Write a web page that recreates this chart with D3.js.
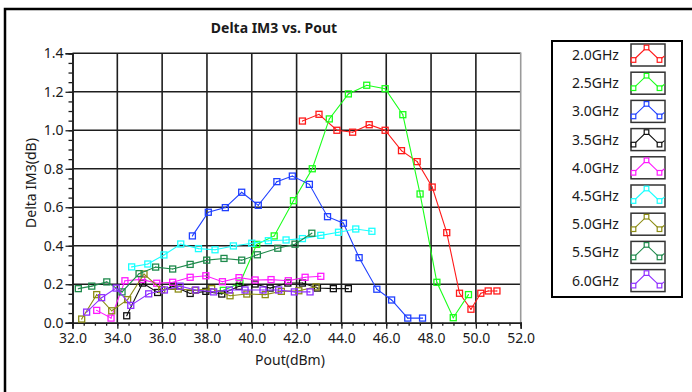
<!DOCTYPE html>
<html>
<head>
<meta charset="utf-8">
<script src="https://cdn.jsdelivr.net/npm/d3@7"></script>
<style>
  html, body { margin: 0; padding: 0; background: #fff; }
  svg { display: block; }
  text { font-family: "Noto Sans", "Open Sans", sans-serif; fill: #1a1a1a; }
</style>
</head>
<body>
<svg id="chart" width="692" height="392"></svg>
<script>
// Delta IM3 vs. Pout, one trace per test frequency: [Pout dBm, Delta IM3 dB]
const s20 = [[42.26,1.048],[43.0,1.083],[43.8,1.0],[44.5,0.99],[45.24,1.029],[45.95,1.0],[46.68,0.894],[47.38,0.837],[48.05,0.705],[48.7,0.468],[49.27,0.153],[49.78,0.07],[50.22,0.153],[50.55,0.165],[50.94,0.165]];
const s25 = [[38.73,0.168],[39.47,0.206],[40.22,0.407],[41.0,0.451],[41.86,0.634],[42.7,0.80],[43.46,1.059],[44.31,1.189],[45.13,1.234],[45.95,1.216],[46.74,1.081],[47.51,0.669],[48.26,0.21],[48.99,0.026],[49.67,0.146]];
const s30 = [[37.35,0.451],[38.06,0.574],[38.82,0.598],[39.55,0.678],[40.29,0.61],[41.12,0.733],[41.81,0.762],[42.57,0.719],[43.38,0.551],[44.09,0.517],[44.79,0.338],[45.58,0.174],[46.24,0.118],[46.96,0.024],[47.62,0.024]];
const s35 = [[34.42,0.036],[35.13,0.206],[35.8,0.157],[36.5,0.19],[37.25,0.152],[37.95,0.163],[38.66,0.149],[39.43,0.189],[40.15,0.201],[40.82,0.18],[41.61,0.206],[42.26,0.206],[42.93,0.18],[43.64,0.177],[44.31,0.177]];
const s40 = [[33.08,0.064],[33.72,0.024],[34.34,0.218],[35.09,0.225],[35.76,0.205],[36.47,0.21],[37.25,0.236],[37.95,0.244],[38.69,0.213],[39.43,0.234],[40.15,0.222],[40.86,0.224],[41.63,0.218],[42.38,0.236],[43.08,0.241]];
const s45 = [[34.64,0.29],[35.36,0.305],[36.08,0.352],[36.83,0.409],[37.62,0.385],[38.36,0.379],[39.18,0.399],[40.0,0.413],[40.74,0.426],[41.53,0.43],[42.26,0.437],[43.08,0.454],[43.87,0.47],[44.64,0.487],[45.36,0.475]];
const s50 = [[32.41,0.019],[33.08,0.146],[33.75,0.062],[34.46,0.12],[35.19,0.253],[35.98,0.172],[36.72,0.175],[37.47,0.168],[38.21,0.177],[39.03,0.14],[39.78,0.149],[40.6,0.146],[41.32,0.163],[42.1,0.166],[42.87,0.186]];
const s55 = [[32.26,0.177],[32.86,0.19],[33.53,0.212],[34.21,0.16],[34.97,0.255],[35.71,0.289],[36.47,0.279],[37.25,0.303],[37.99,0.325],[38.76,0.334],[39.55,0.325],[40.25,0.353],[41.16,0.387],[41.93,0.408],[42.68,0.465]];
const s60 = [[32.63,0.055],[33.3,0.13],[33.95,0.18],[34.6,0.09],[35.4,0.15],[36.1,0.17],[36.8,0.19],[37.5,0.17],[38.3,0.16],[39.0,0.17],[39.7,0.17],[40.5,0.17],[41.2,0.17],[41.9,0.16],[42.6,0.16]];

const seriesNames  = ["2.0GHz","2.5GHz","3.0GHz","3.5GHz","4.0GHz","4.5GHz","5.0GHz","5.5GHz","6.0GHz"];
const seriesColors = ["#ff1a1a","#1aff1a","#2040ff","#111111","#ff1aff","#1affff","#8c8c14","#1f8a4c","#9030ff"];
const seriesData   = [s20, s25, s30, s35, s40, s45, s50, s55, s60];

const xTicks = [32,34,36,38,40,42,44,46,48,50,52];
const yTicks = [0,0.2,0.4,0.6,0.8,1.0,1.2,1.4];

const svg = d3.select("#chart");

// outer panel frame
svg.append("rect").attr("x",5).attr("y",9).attr("width",720).attr("height",420)
  .attr("fill","#fff").attr("stroke","#000").attr("stroke-width",2.5);

const x = d3.scaleLinear().domain([32,52]).range([72.5,520.7]);
const y = d3.scaleLinear().domain([0,1.4]).range([322.7,53.3]);

// plot background
svg.append("rect").attr("x",x(32)).attr("y",y(1.4))
  .attr("width",x(52)-x(32)).attr("height",y(0)-y(1.4)).attr("fill","#fff");

// grid
const grid = svg.append("g");
grid.selectAll("line.v").data(xTicks.slice(1,-1)).join("line")
  .attr("x1",d=>x(d)).attr("x2",d=>x(d)).attr("y1",y(1.4)).attr("y2",y(0))
  .attr("stroke","#1e1e1e").attr("stroke-width",1.6);
grid.selectAll("line.h").data(yTicks.slice(1)).join("line")
  .attr("x1",x(32)).attr("x2",x(52)).attr("y1",d=>y(d)).attr("y2",d=>y(d))
  .attr("stroke","#1e1e1e").attr("stroke-width",1.6);
// right border of plot
svg.append("line").attr("x1",x(52)).attr("x2",x(52)).attr("y1",y(1.4)-0.8).attr("y2",y(0))
  .attr("stroke","#9a9a9a").attr("stroke-width",1.6);

// axes
const xAxis = d3.axisBottom(x).tickValues(xTicks).tickFormat(d3.format(".1f")).tickSize(6).tickPadding(4);
const xMinor = d3.axisBottom(x).tickValues(d3.range(32,52.01,0.5)).tickFormat("").tickSize(3);
const yAxis = d3.axisLeft(y).tickValues(yTicks).tickFormat(d3.format(".1f")).tickSize(7).tickPadding(2);
const yMinor = d3.axisLeft(y).tickValues(d3.range(0,1.401,0.05)).tickFormat("").tickSize(4);

function styleAxis(g){
  g.select(".domain").attr("stroke","#1e1e1e").attr("stroke-width",1.6);
  g.selectAll(".tick line").attr("stroke","#1e1e1e").attr("stroke-width",1.3);
  g.selectAll(".tick text").style("font-size","14px").attr("fill","#1a1a1a");
}
svg.append("g").attr("transform",`translate(0,${y(0)})`).call(xMinor).call(styleAxis);
svg.append("g").attr("transform",`translate(0,${y(0)})`).call(xAxis).call(styleAxis);
svg.append("g").attr("transform",`translate(${x(32)},0)`).call(yMinor).call(styleAxis);
svg.append("g").attr("transform",`translate(${x(32)},0)`).call(yAxis).call(styleAxis);

// titles
svg.append("text").attr("x",274).attr("y",33).attr("text-anchor","middle")
  .style("font-size","14px").style("font-weight","bold").text("Delta IM3 vs. Pout");
svg.append("text").attr("x",290).attr("y",365).attr("text-anchor","middle")
  .style("font-size","14px").text("Pout(dBm)");
svg.append("text").attr("transform","translate(36,183) rotate(-90)").attr("text-anchor","middle")
  .style("font-size","14px").text("Delta IM3(dB)");

// traces
const line = d3.line().x(d=>x(d[0])).y(d=>y(d[1]));
const plot = svg.append("g");
seriesData.forEach((data,i)=>{
  const c = seriesColors[i];
  const g = plot.append("g");
  g.append("path").datum(data).attr("d",line).attr("fill","none")
    .attr("stroke",c).attr("stroke-width",1.1);
  g.selectAll("rect").data(data).join("rect")
    .attr("x",d=>x(d[0])-3).attr("y",d=>y(d[1])-3).attr("width",6).attr("height",6)
    .attr("fill","none").attr("stroke",c).attr("stroke-width",1.3);
  g.selectAll("circle").data(data).join("circle")
    .attr("cx",d=>x(d[0])).attr("cy",d=>y(d[1])).attr("r",0.6).attr("fill",c);
});

// legend
const lg = svg.append("g");
lg.append("rect").attr("x",552).attr("y",41).attr("width",130).attr("height",256)
  .attr("fill","#fff").attr("stroke","#000").attr("stroke-width",2);
seriesNames.forEach((name,i)=>{
  const cy = 55 + i*28.2;
  const c = seriesColors[i];
  lg.append("text").attr("x",572).attr("y",cy+5).style("font-size","14px").text(name);
  lg.append("rect").attr("x",631).attr("y",cy-11).attr("width",34).attr("height",22)
    .attr("fill","#fff").attr("stroke","#333").attr("stroke-width",1.5);
  const pts = [[633.5,cy+5],[646.5,cy-7.5],[659.5,cy+5],[664.5,cy+1]];
  lg.append("path").attr("d",d3.line()(pts)).attr("fill","none").attr("stroke",c).attr("stroke-width",1.1);
  pts.slice(0,3).forEach(p=>{
    lg.append("rect").attr("x",p[0]-2.3).attr("y",p[1]-2.3).attr("width",4.6).attr("height",4.6)
      .attr("fill","#fff").attr("stroke",c).attr("stroke-width",1.2);
  });
});
</script>
</body>
</html>
